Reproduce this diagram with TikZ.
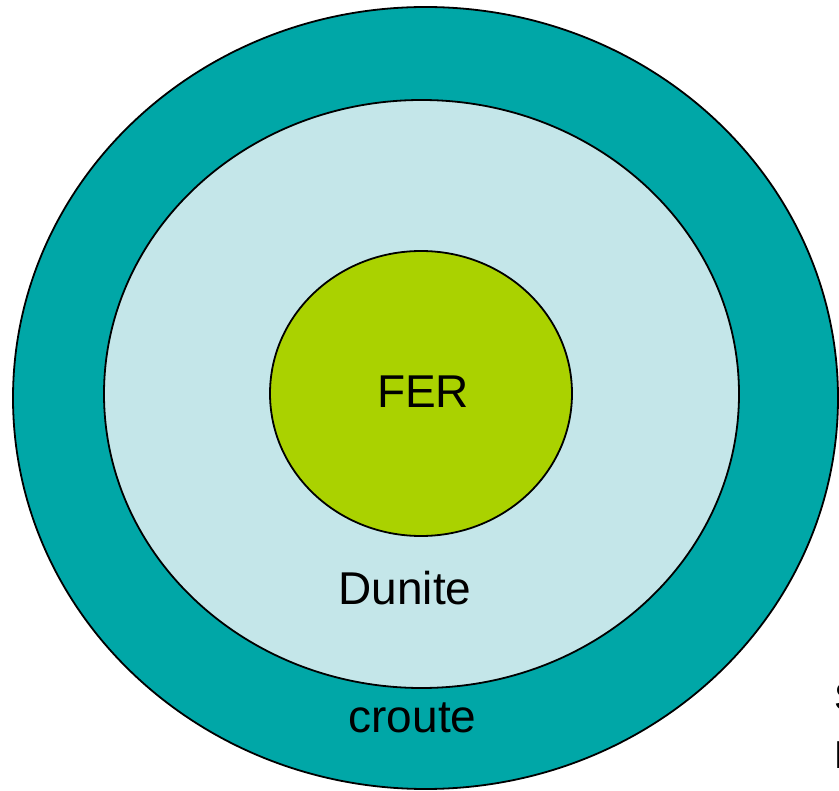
\documentclass[tikz,border=0pt]{standalone}
\usepackage{fontspec}
\setmainfont{Liberation Sans}
\definecolor{crust}{RGB}{0,167,167}
\definecolor{mantle}{RGB}{196,230,233}
\definecolor{core}{RGB}{170,210,0}
\begin{document}
\begin{tikzpicture}[x=1pt,y=-1pt,
  layer/.style={draw=black,line width=1.8pt},
  lbl/.style={inner sep=0pt,font=\fontsize{46}{50}\selectfont}]
\useasboundingbox (0,0) rectangle (839,791);
% concentric layers
\fill[crust,layer] (425.5,398) ellipse [x radius=412.5, y radius=391];
\fill[mantle,layer] (421.5,394) ellipse [x radius=317.5, y radius=294];
\fill[core,layer] (421,393.5) ellipse [x radius=151, y radius=142.5];
% labels
\node[lbl,anchor=base] (fer) at (423,408) {FER};
\node[lbl,anchor=base] (dunite) at (405,605) {Dunite};
\node[lbl,anchor=base] (croute) at (412.5,732) {croute};
% side labels running off the right edge
\node[lbl,anchor=base west,font=\fontsize{39}{44}\selectfont] (s) at (834,710) {S};
\node[lbl,anchor=base west,font=\fontsize{39}{44}\selectfont] (l) at (834,768) {L};
\end{tikzpicture}
\end{document}
